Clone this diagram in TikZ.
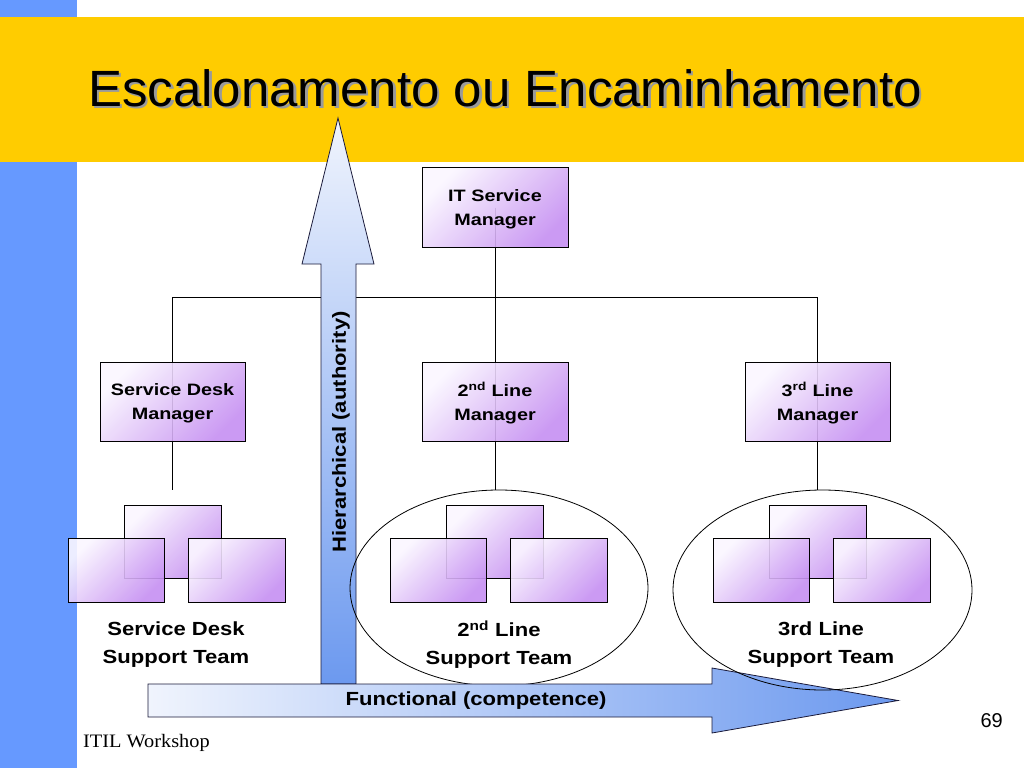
\documentclass[tikz,border=0pt]{standalone}
\usepackage{fontspec}
\setmainfont{Liberation Sans}
\newfontfamily\titlefont{Liberation Sans}
\newfontfamily\lblfont[FakeStretch=1.16]{Liberation Sans}
\newfontfamily\boxfont[FakeStretch=1.2]{Liberation Sans}
\newfontfamily\footfont[FakeStretch=1.07]{Liberation Serif}
\usetikzlibrary{shapes.geometric}
\definecolor{slideblue}{HTML}{6699FF}
\definecolor{bandyellow}{HTML}{FFCC00}
\definecolor{boxlight}{HTML}{FBF7FF}
\definecolor{boxdark}{HTML}{C690F2}
\definecolor{arrlight}{HTML}{F0F4FD}
\definecolor{arrdark}{HTML}{6C99EF}
\definecolor{arredge}{HTML}{1A1A3A}
\definecolor{shadowgray}{HTML}{9A9A9A}
\begin{document}
\begin{tikzpicture}[x=1pt,y=-1pt,
  boxbase/.style={draw=black, line width=0.8pt, top color=boxlight, bottom color=boxdark,
    shading angle=45, fill opacity=0.9, text opacity=1, inner sep=0},
  orgbox/.style={boxbase, minimum width=146, minimum height=80, align=center, text depth=0pt,
    font=\boxfont\bfseries\fontsize{16.5}{24}\selectfont},
  topbox/.style={boxbase, minimum width=97, minimum height=73},
  lowbox/.style={boxbase, minimum width=96, minimum height=64},
  teamlbl/.style={align=center, inner sep=0, font=\lblfont\bfseries\fontsize{19}{28}\selectfont},
  link/.style={draw=black, line width=0.8pt},
  group/.style={ellipse, draw=black, line width=0.8pt, inner sep=0},
  bigarrow/.style={draw=arredge, line width=0.8pt}
]
\useasboundingbox (0,0) rectangle (1024,768);
% background
\fill[white] (0,0) rectangle (1024,768);
\fill[slideblue] (0,0) rectangle (77,768);
\fill[bandyellow] (0,17) rectangle (1024,162);
% title with shadow
\node[anchor=base west, inner sep=0, font=\titlefont\fontsize{51}{60}\selectfont]
  (title) at (88,106) {\makebox[0pt][l]{\kern2.5pt\raisebox{-2.5pt}{\color{shadowgray}Escalonamento ou Encaminhamento}}Escalonamento ou Encaminhamento};

% connector points
\coordinate (busL) at (172.5,297);
\coordinate (busM) at (495,297);
\coordinate (busR) at (817.5,297);
\coordinate (sdEnd) at (172.5,490);

% ellipse placeholders (outlines drawn later)
\path (499,588) node[group, minimum width=298, minimum height=196, draw=none] (e2) {};
\path (822.5,590) node[group, minimum width=299, minimum height=200, draw=none] (e3) {};

% manager box centres
\path (495,207.5) coordinate (itc);
\path (172.5,401.5) coordinate (sdc);
\path (495,401.5) coordinate (l2c);
\path (817.5,401.5) coordinate (l3c);

% connectors
\draw[link] (itc) -- (busM);
\draw[link] (busL) -- (busR);
\draw[link] (busL) -- (sdc);
\draw[link] (busM) -- (l2c);
\draw[link] (busR) -- (l3c);
\draw[link] (sdc) -- (sdEnd);
\draw[link] (l2c) -- (l2c |- e2.north);
\draw[link] (l3c) -- (l3c |- e3.north);

% manager boxes
\node[orgbox] (it) at (itc) {IT Service\\Manager};
\node[orgbox, minimum width=145, minimum height=79] (sdm) at (sdc) {Service Desk\\Manager};
\node[orgbox, minimum width=146, minimum height=79] (l2m) at (l2c) {2\textsuperscript{nd} Line\\Manager};
\node[orgbox, minimum width=145, minimum height=79] (l3m) at (l3c) {3\textsuperscript{rd} Line\\Manager};

% team clusters
\node[topbox] (sdT) at (172.5,541.5) {};
\node[lowbox] (sdL) at (116,570) {};
\node[lowbox, minimum width=97] (sdR) at (236.5,570) {};
\node[topbox] (l2T) at (495,541.5) {};
\node[lowbox] (l2L) at (438.5,570) {};
\node[lowbox, minimum width=97] (l2R) at (559,570) {};
\node[topbox] (l3T) at (817.5,541.5) {};
\node[lowbox] (l3L) at (761,570) {};
\node[lowbox, minimum width=97] (l3R) at (881.5,570) {};

% vertical arrow
\shade[bigarrow, top color=arrlight, bottom color=arrdark]
  (321,684) -- (321,264) -- (302,264) -- (338,118) -- (374,264) -- (356,264) -- (356,684) -- cycle;
\node[rotate=90, inner sep=0, font=\lblfont\bfseries\fontsize{19}{24}\selectfont]
  (hier) at (341,432) {Hierarchical (authority)};

% 2nd line group outline (under the horizontal arrow)
\node[group, minimum width=298, minimum height=196] (e2d) at (e2) {};

% horizontal arrow
\shade[bigarrow, left color=arrlight, right color=arrdark]
  (148,684) -- (712,684) -- (712,668) -- (898,700.5) -- (712,733) -- (712,717) -- (148,717) -- cycle;
\node[inner sep=0, font=\lblfont\bfseries\fontsize{19}{24}\selectfont]
  (func) at (476,701) {Functional (competence)};

% 3rd line group outline (over the arrow head)
\node[group, minimum width=299, minimum height=200] (e3d) at (e3) {};

% team labels
\node[teamlbl] (sdlbl) at (176,645) {Service Desk\\Support Team};
\node[teamlbl] (l2lbl) at (499,645) {2\textsuperscript{nd} Line\\Support Team};
\node[teamlbl] (l3lbl) at (821,645) {3rd Line\\Support Team};

% footer
\node[anchor=base west, inner sep=0, font=\footfont\fontsize{19}{22}\selectfont] (foot) at (83,747) {ITIL Workshop};
\node[anchor=base east, inner sep=0, font=\fontsize{20}{24}\selectfont] (pnum) at (1003,727) {69};
\end{tikzpicture}
\end{document}
